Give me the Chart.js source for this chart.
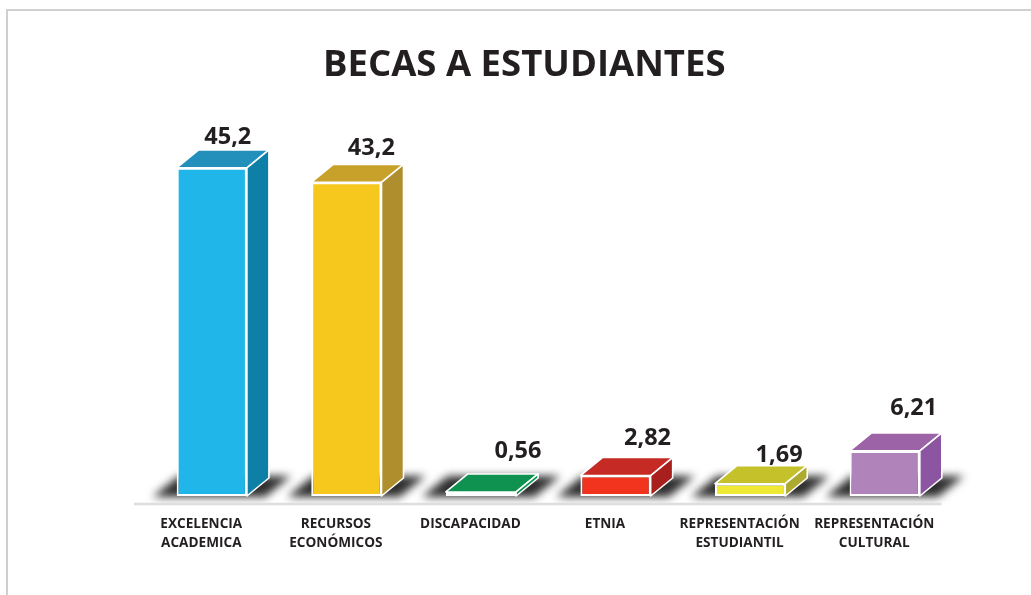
<!DOCTYPE html>
<html>
<head>
<meta charset="utf-8">
<style>
html,body{margin:0;padding:0;background:#fff;overflow:hidden}
#wrap{position:relative;width:1031px;height:595px;overflow:hidden}
#frame{position:absolute;left:6px;top:9px;width:1100px;height:700px;border-top:2px solid #d0d0d0;border-left:2px solid #cfcfcf;box-sizing:border-box}
canvas{position:absolute;left:0;top:0}
</style>
</head>
<body>
<div id="wrap"><div id="frame"></div><canvas id="c" width="1031" height="595"></canvas></div>
<script src="https://cdn.jsdelivr.net/npm/chart.js@4"></script>
<script>
const titleText = "BECAS A ESTUDIANTES";
const categories = [["EXCELENCIA","ACADEMICA"],["RECURSOS","ECONÓMICOS"],"DISCAPACIDAD","ETNIA",["REPRESENTACIÓN","ESTUDIANTIL"],["REPRESENTACIÓN","CULTURAL"]];
const values = [45.2,43.2,0.56,2.82,1.69,6.21];
const valueLabels = ["45,2","43,2","0,56","2,82","1,69","6,21"];
const frontColors = ["#21B6EA","#F6C71C","#0E9350","#F2341F","#EFE935","#B083BB"];
const topColors = ["#2390BC","#C8A12B","#0F914F","#C52A25","#C5C12B","#9C63A7"];
const sideColors = ["#0E80A8","#AF8E2E","#0F914F","#A91F1D","#ADAB2F","#8B55A1"];
const labelShiftX = [16,25,37,32,29,29];
const labelShiftY = [-31,-34,-41,-37,-28,-43];
const sceneX = 10.5, sceneY = -8, depthX = 22, depthY = -18;

function poly(ctx, pts, fill, stroke){
  ctx.beginPath();
  pts.forEach((p,i)=> i ? ctx.lineTo(p[0],p[1]) : ctx.moveTo(p[0],p[1]));
  ctx.closePath();
  if(fill){ctx.fillStyle=fill;ctx.fill();}
  if(stroke){ctx.strokeStyle=stroke;ctx.lineWidth=1.6;ctx.lineJoin='round';ctx.stroke();}
}
const scene3d = {
  id:'scene3d',
  beforeDatasetsDraw(chart){
    const ctx = chart.ctx, bars = chart.getDatasetMeta(0).data;
    ctx.save();
    ctx.translate(sceneX,sceneY);
    bars.forEach(b=>{
      const L=b.x-b.width/2,R=b.x+b.width/2,B=b.base;
      ctx.save();
      ctx.filter='blur(4.5px)';
      poly(ctx,[[L-24,B+1],[L+2,B-20],[R+44,B-20],[R+18,B+1]],'#2e2e2e');
      ctx.restore();
    });
    bars.forEach((b,i)=>{
      const L=b.x-b.width/2,R=b.x+b.width/2,B=b.base,T=b.y;
      poly(ctx,[[L,T],[L+depthX,T+depthY],[R+depthX,T+depthY],[R,T]],topColors[i],'#ffffff');
      poly(ctx,[[R,T],[R+depthX,T+depthY],[R+depthX,B+depthY],[R,B]],sideColors[i],'#ffffff');
    });
  },
  afterDatasetsDraw(chart){
    const ctx = chart.ctx, bars = chart.getDatasetMeta(0).data;
    ctx.fillStyle='#231F20';
    ctx.font='bold 23.5px "Open Sans"';
    ctx.textAlign='center';
    ctx.textBaseline='middle';
    bars.forEach((b,i)=>ctx.fillText(valueLabels[i],b.x+labelShiftX[i],b.y+labelShiftY[i]));
    ctx.restore();
    const a = chart.chartArea;
    ctx.save();
    ctx.strokeStyle='#dedede';
    ctx.lineWidth=2.5;
    ctx.beginPath();
    ctx.moveTo(a.left,a.bottom);ctx.lineTo(a.right,a.bottom);
    ctx.stroke();
    ctx.restore();
  }
};
new Chart(document.getElementById('c'),{
  type:'bar',
  data:{labels:categories,datasets:[{
    data:values,
    backgroundColor:frontColors,
    borderColor:'#ffffff',
    borderWidth:2,
    borderSkipped:false,
    barPercentage:0.522,
    categoryPercentage:1,
    clip:false
  }]},
  options:{
    responsive:false,
    animation:false,
    layout:{padding:{left:107,right:89.5,top:0,bottom:0}},
    plugins:{
      legend:{display:false},
      tooltip:{enabled:false},
      title:{display:true,text:titleText,color:'#231F20',
        font:{family:'Open Sans',weight:'bold',size:36.5,lineHeight:1},
        padding:{top:47,bottom:57.5}}
    },
    scales:{
      x:{
        grid:{display:false},border:{display:false},
        afterFit(s){s.height=91;},
        ticks:{color:'#231F20',font:{family:'Open Sans',weight:'bold',size:13.6,lineHeight:1.4},padding:3,maxRotation:0,minRotation:0,autoSkip:false}
      },
      y:{
        min:0,max:50,
        grid:{display:false},border:{display:false},
        ticks:{display:false},
        afterFit(s){s.width=27;}
      }
    }
  },
  plugins:[scene3d]
});
</script>
</body>
</html>
